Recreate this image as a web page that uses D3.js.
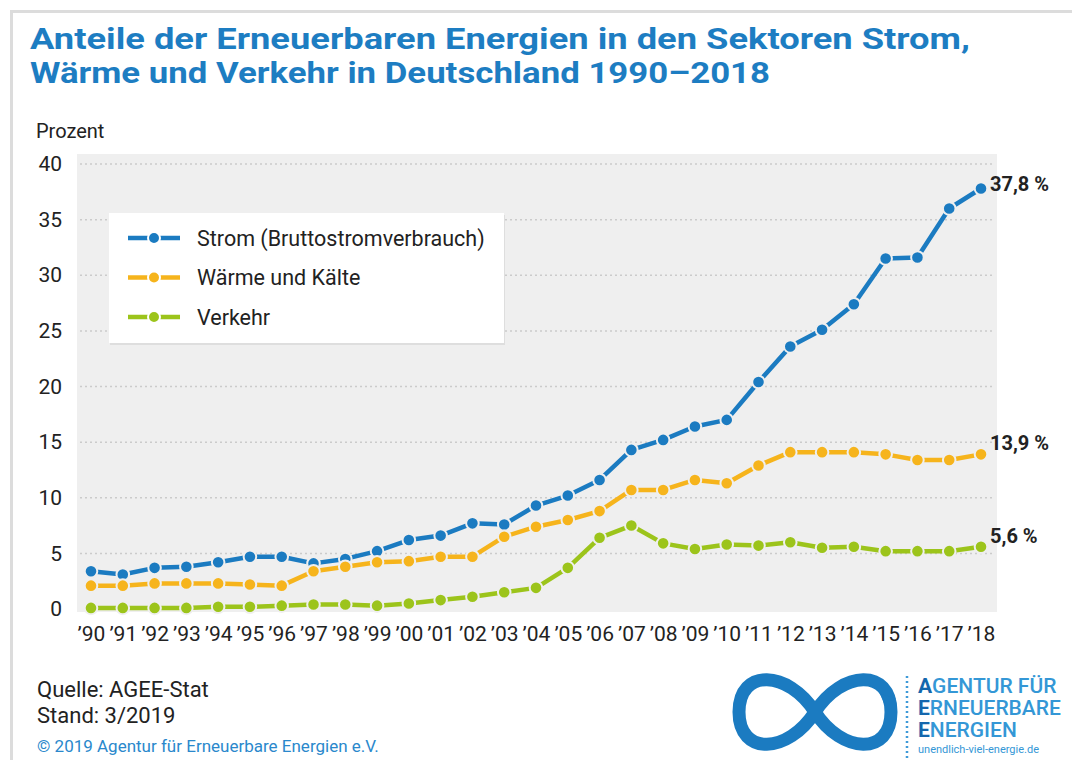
<!DOCTYPE html>
<html>
<head>
<meta charset="utf-8">
<script src="https://cdn.jsdelivr.net/npm/d3@7"></script>
<style>
  body { margin: 0; background: #fff; }
  text { font-family: Roboto, "Noto Sans", sans-serif; }
</style>
</head>
<body>
<div id="chart"></div>
<script>
// Jahre und Achsenbeschriftung
const years = [1990, 1991, 1992, 1993, 1994, 1995, 1996, 1997, 1998, 1999, 2000, 2001, 2002, 2003, 2004,
  2005, 2006, 2007, 2008, 2009, 2010, 2011, 2012, 2013, 2014, 2015, 2016, 2017, 2018];
const yearLabels = ["’90", "’91", "’92", "’93", "’94", "’95", "’96", "’97", "’98", "’99", "’00", "’01", "’02", "’03", "’04",
  "’05", "’06", "’07", "’08", "’09", "’10", "’11", "’12", "’13", "’14", "’15", "’16", "’17", "’18"];
const yTicks = [0, 5, 10, 15, 20, 25, 30, 35, 40];

// Anteile in Prozent
const strom = [3.4, 3.1, 3.7, 3.8, 4.2, 4.7, 4.7, 4.1, 4.5, 5.2, 6.2, 6.6, 7.7, 7.6, 9.3,
  10.2, 11.6, 14.3, 15.2, 16.4, 17.0, 20.4, 23.6, 25.1, 27.4, 31.5, 31.6, 36.0, 37.8];
const waerme = [2.1, 2.1, 2.3, 2.3, 2.3, 2.2, 2.1, 3.4, 3.8, 4.2, 4.3, 4.7, 4.7, 6.5, 7.4,
  8.0, 8.8, 10.7, 10.7, 11.6, 11.3, 12.9, 14.1, 14.1, 14.1, 13.9, 13.4, 13.4, 13.9];
const verkehr = [0.1, 0.1, 0.1, 0.1, 0.2, 0.2, 0.3, 0.4, 0.4, 0.3, 0.5, 0.8, 1.1, 1.5, 1.9,
  3.7, 6.4, 7.5, 5.9, 5.4, 5.8, 5.7, 6.0, 5.5, 5.6, 5.2, 5.2, 5.2, 5.6];

const seriesNames = ["Strom (Bruttostromverbrauch)", "Wärme und Kälte", "Verkehr"];
const seriesColors = ["#1b7bc1", "#f6b41c", "#9cc41b"];
const endLabels = ["37,8 %", "13,9 %", "5,6 %"];

function init() {
  const width = 1072, height = 760;
  const bg = "#efefef";

  const svg = d3.select("#chart")
    .append("svg")
    .attr("width", width)
    .attr("height", height);

  // outer frame (top + left)
  svg.append("path")
    .attr("d", "M11.5," + height + "V11.5H" + width)
    .attr("fill", "none")
    .attr("stroke", "#dcdcdc")
    .attr("stroke-width", 3);

  // title
  const title = svg.append("g").attr("fill", "#1d7dc2").attr("font-weight", 700).attr("font-size", 30);
  title.append("text").attr("x", 30).attr("y", 49)
    .attr("textLength", 940).attr("lengthAdjust", "spacingAndGlyphs")
    .text("Anteile der Erneuerbaren Energien in den Sektoren Strom,");
  title.append("text").attr("x", 30).attr("y", 83)
    .attr("textLength", 740).attr("lengthAdjust", "spacingAndGlyphs")
    .text("Wärme und Verkehr in Deutschland 1990–2018");

  svg.append("text").attr("x", 36).attr("y", 138)
    .attr("font-size", 20).attr("fill", "#222")
    .text("Prozent");

  const x = d3.scalePoint().domain(years).range([91, 981]);
  const y = d3.scaleLinear().domain([0, 40]).range([609, 164]);

  // plot background
  svg.append("rect")
    .attr("x", 77).attr("y", 154)
    .attr("width", 920).attr("height", 458)
    .attr("fill", bg);

  // dotted grid lines
  svg.append("g").selectAll("line")
    .data(yTicks.filter(d => d > 0))
    .enter().append("line")
    .attr("x1", 80).attr("x2", 995)
    .attr("y1", d => y(d)).attr("y2", d => y(d))
    .attr("stroke", "#cbcbcb")
    .attr("stroke-width", 1.5)
    .attr("stroke-dasharray", "2,3");

  // y axis
  const yAxis = svg.append("g")
    .attr("transform", "translate(62,0)")
    .call(d3.axisLeft(y).tickValues(yTicks).tickSize(0).tickPadding(0));
  yAxis.select(".domain").remove();
  yAxis.selectAll("text")
    .attr("font-size", 21).attr("fill", "#222")
    .attr("font-family", "Roboto, 'Noto Sans', sans-serif");

  // x axis
  const xAxis = svg.append("g")
    .attr("transform", "translate(0,641)")
    .call(d3.axisBottom(x).tickSize(0).tickFormat((d, i) => yearLabels[i]));
  xAxis.select(".domain").remove();
  xAxis.selectAll("text")
    .attr("y", 0).attr("dy", 0)
    .attr("font-size", 21).attr("fill", "#222")
    .attr("font-family", "Roboto, 'Noto Sans', sans-serif");

  const allSeries = [strom, waerme, verkehr];
  const line = d3.line().x((d, i) => x(years[i])).y(d => y(d));

  allSeries.forEach((vals, s) => {
    const g = svg.append("g");
    g.append("path")
      .datum(vals)
      .attr("d", line)
      .attr("fill", "none")
      .attr("stroke", seriesColors[s])
      .attr("stroke-width", 4.5)
      .attr("stroke-linejoin", "round");
    g.selectAll("circle")
      .data(vals)
      .enter().append("circle")
      .attr("cx", (d, i) => x(years[i]))
      .attr("cy", d => y(d))
      .attr("r", 6.3)
      .attr("fill", seriesColors[s])
      .attr("stroke", bg)
      .attr("stroke-width", 2);

    // value at the end
    const last = vals[vals.length - 1];
    svg.append("text")
      .attr("x", 990)
      .attr("y", y(last) + (s === 0 ? -4 : -11))
      .attr("dominant-baseline", "central")
      .attr("font-size", 20).attr("font-weight", 700).attr("fill", "#222")
      .text(endLabels[s]);
  });

  // legend
  const lg = svg.append("g");
  lg.append("rect").attr("x", 110).attr("y", 215).attr("width", 395).attr("height", 130).attr("fill", "#dedede");
  lg.append("rect").attr("x", 109).attr("y", 213).attr("width", 395).attr("height", 130).attr("fill", "#fff");
  seriesNames.forEach((name, s) => {
    const ly = 238 + s * 39.5;
    lg.append("line")
      .attr("x1", 128).attr("x2", 180).attr("y1", ly).attr("y2", ly)
      .attr("stroke", seriesColors[s]).attr("stroke-width", 4.5);
    lg.append("circle")
      .attr("cx", 154).attr("cy", ly).attr("r", 6)
      .attr("fill", seriesColors[s]).attr("stroke", "#fff").attr("stroke-width", 2);
    lg.append("text")
      .attr("x", 197).attr("y", ly)
      .attr("dominant-baseline", "central")
      .attr("font-size", 21.5).attr("fill", "#222")
      .text(name);
  });

  // footer
  svg.append("text").attr("x", 37).attr("y", 697).attr("font-size", 22).attr("fill", "#222").text("Quelle: AGEE-Stat");
  svg.append("text").attr("x", 37).attr("y", 723).attr("font-size", 22).attr("fill", "#222").text("Stand: 3/2019");
  svg.append("text").attr("x", 37).attr("y", 752).attr("font-size", 17).attr("fill", "#2a88cc")
    .text("© 2019 Agentur für Erneuerbare Energien e.V.");

  // logo
  const logo = svg.append("g");
  logo.append("path")
    .attr("d", "M815,712 C842,670 891,668 891,712 C891,756 842,754 815,712 C788,670 739,668 739,712 C739,756 788,754 815,712")
    .attr("fill", "none")
    .attr("stroke", "#1b7bc1")
    .attr("stroke-width", 13);
  logo.append("path")
    .attr("d", "M880,694 L896,698 L886,708 Z")
    .attr("fill", "#1b7bc1");
  logo.append("line")
    .attr("x1", 907).attr("x2", 907).attr("y1", 676).attr("y2", 758)
    .attr("stroke", "#3f9ad8").attr("stroke-width", 2.5).attr("stroke-dasharray", "2,3");

  const logoLines = [["A", "GENTUR FÜR", 693], ["E", "RNEUERBARE", 715], ["E", "NERGIEN", 737]];
  logoLines.forEach(l => {
    const t = logo.append("text").attr("x", 918).attr("y", l[2]).attr("font-size", 21).attr("font-weight", 500);
    t.append("tspan").attr("fill", "#1467ad").attr("font-weight", 700).text(l[0]);
    t.append("tspan").attr("fill", "#3497d6").text(l[1]);
  });
  logo.append("text").attr("x", 918).attr("y", 753).attr("font-size", 11).attr("fill", "#3497d6")
    .text("unendlich-viel-energie.de");
}

window.onload = init;
</script>
</body>
</html>
